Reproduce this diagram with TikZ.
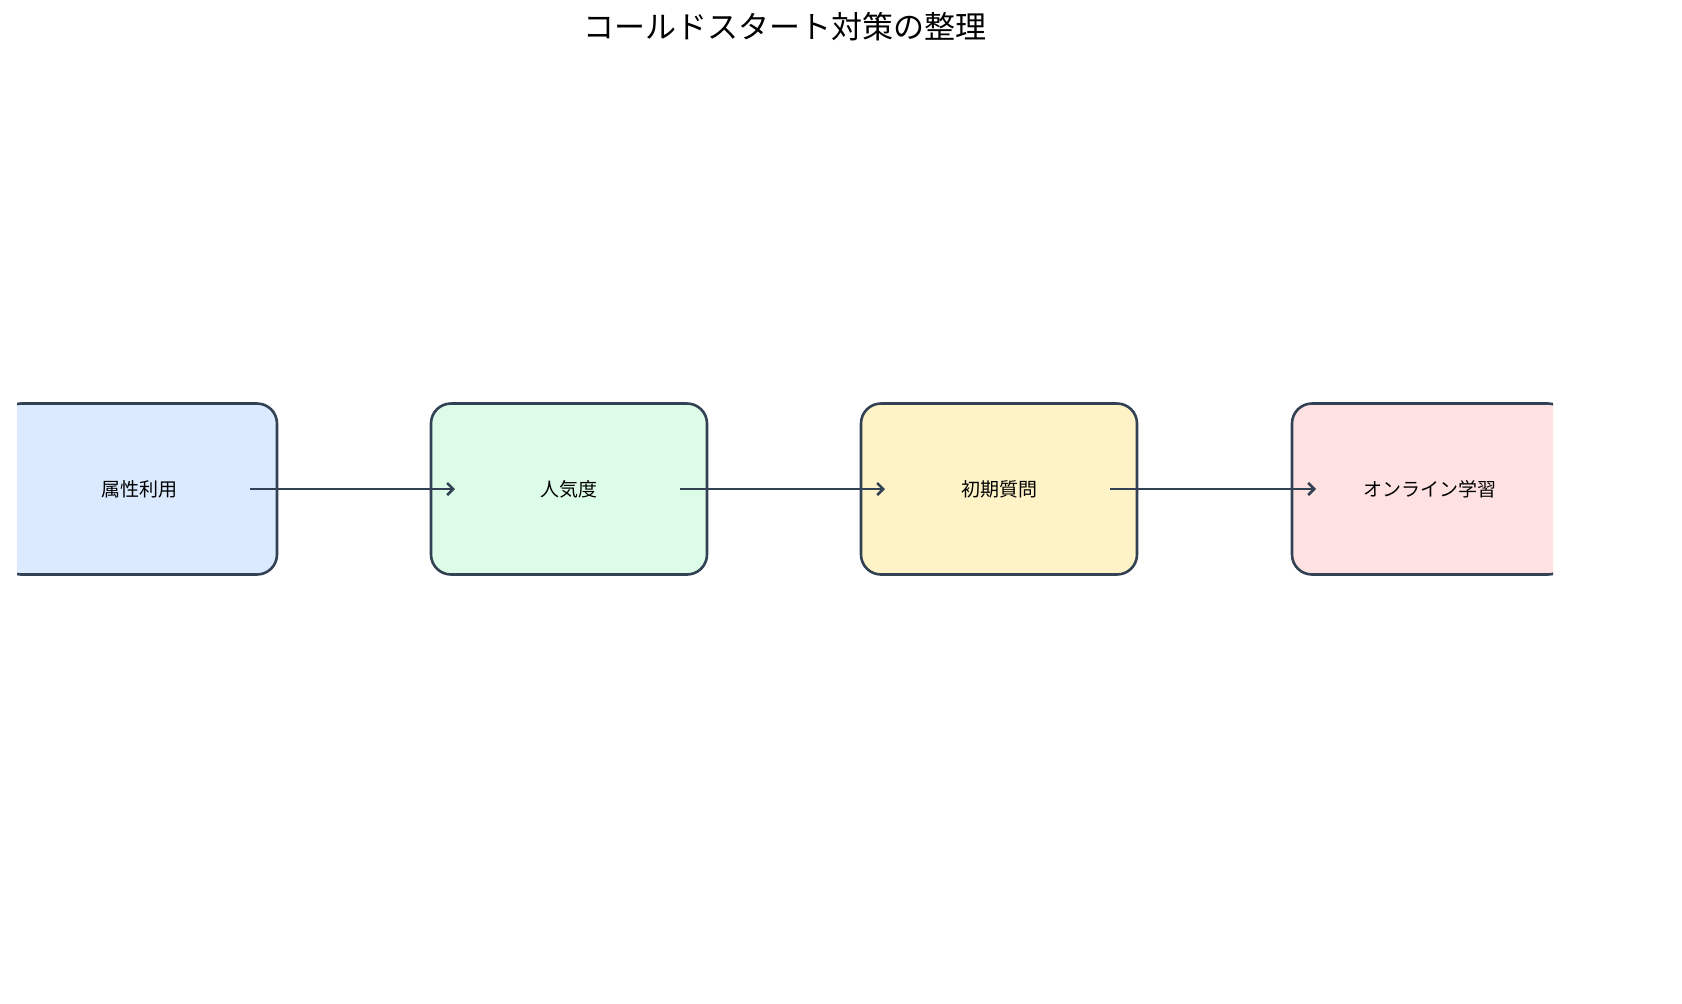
\documentclass[tikz,border=0pt]{standalone}
\usepackage{fontspec}
\setmainfont{Noto Sans CJK JP}
\usetikzlibrary{calc,arrows.meta}
\definecolor{edgecol}{HTML}{334155}
\definecolor{stepblue}{HTML}{DBEAFE}
\definecolor{stepgreen}{HTML}{DCFCE7}
\definecolor{stepyellow}{HTML}{FEF3C7}
\definecolor{steppink}{HTML}{FEE2E2}
\begin{document}
\begin{tikzpicture}[x=0.5pt, y=-0.5pt]
  \tikzset{stepbox/.style = {rectangle, draw=edgecol, line width=1.3pt, rounded corners=10pt,
                             minimum width=138pt, minimum height=85.5pt, font=\fontsize{9.5}{11}\selectfont},
           flow/.style = {->, draw=edgecol, line width=1.3pt, >={Straight Barb[length=3pt]}}}
\useasboundingbox (0,0) rectangle (1682,1003);
\node[font=\fontsize{15.5}{18}\selectfont] (title) at (785,27) {コールドスタート対策の整理};

\begin{scope}
\clip (17,0) rectangle (1553,1003);
\node[stepbox, fill=stepblue] (attr) at (139,489) {属性利用};
\node[stepbox, fill=stepgreen] (pop) at (569,489) {人気度};
\node[stepbox, fill=stepyellow] (ask) at (999,489) {初期質問};
\node[stepbox, fill=steppink] (online) at (1430,489) {オンライン学習};
\end{scope}

\draw[flow] ($(attr.center)+(111,0)$) -- ($(pop.center)+(-114,0)$);
\draw[flow] ($(pop.center)+(111,0)$) -- ($(ask.center)+(-114,0)$);
\draw[flow] ($(ask.center)+(111,0)$) -- ($(online.center)+(-114,0)$);
\end{tikzpicture}
\end{document}
